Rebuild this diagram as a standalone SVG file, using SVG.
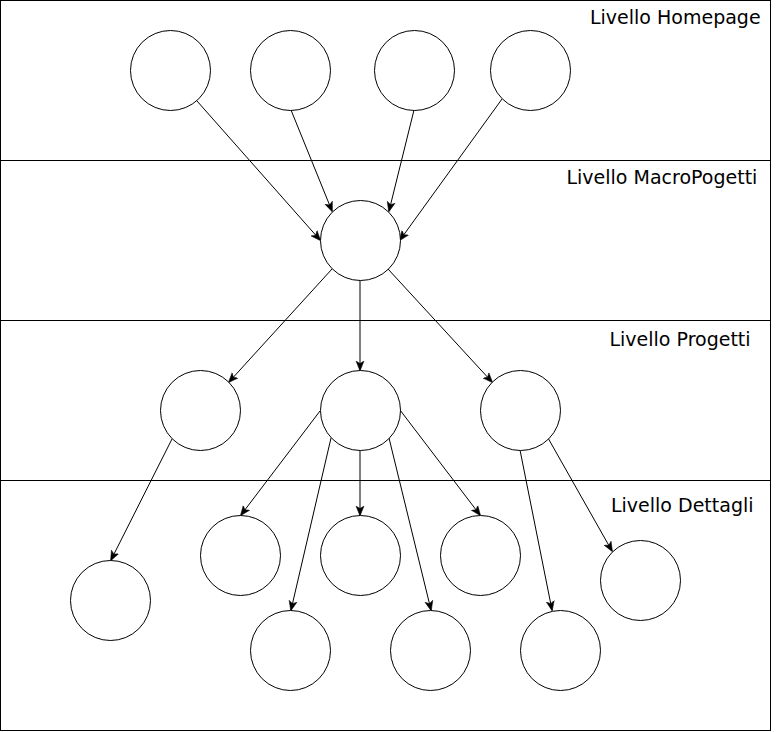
<svg xmlns="http://www.w3.org/2000/svg" width="782" height="732" viewBox="0 0 782 732">
<style>
.lane{fill:none;stroke:#000;stroke-width:1}
.node{fill:#fff;stroke:#000;stroke-width:1}
.edge{fill:none;stroke:#000;stroke-width:1;marker-end:url(#arr)}
.lbl{font-family:"DejaVu Sans",sans-serif;font-size:19px;fill:#000}
</style>
<defs>
<marker id="arr" viewBox="0 0 10 10" refX="9" refY="5" markerWidth="10" markerHeight="10" markerUnits="userSpaceOnUse" orient="auto">
<path d="M0,1 L10,5 L0,9 L2.5,5 Z" fill="#000" stroke="#000" stroke-width="0.5"/>
</marker>
</defs>
<rect fill="#fff" x="0" y="0" width="782" height="732"/>
<g id="lanes">
<rect class="lane" x="0.5" y="0.5" width="770" height="730"/>
<line class="lane" x1="0.5" y1="160.5" x2="770.5" y2="160.5"/>
<line class="lane" x1="0.5" y1="320.5" x2="770.5" y2="320.5"/>
<line class="lane" x1="0.5" y1="480.5" x2="770.5" y2="480.5"/>
<text class="lbl" x="590" y="24">Livello Homepage</text>
<text class="lbl" x="566.5" y="184">Livello MacroPogetti</text>
<text class="lbl" x="609.5" y="346">Livello Progetti</text>
<text class="lbl" x="611" y="512">Livello Dettagli</text>
</g>
<g id="connectors">
<line class="edge" x1="197" y1="101" x2="320" y2="240"/>
<line class="edge" x1="291" y1="110" x2="332" y2="211"/>
<line class="edge" x1="414" y1="110" x2="389" y2="211"/>
<line class="edge" x1="502" y1="99" x2="400" y2="240"/>
<line class="edge" x1="332" y1="269" x2="229" y2="382"/>
<line class="edge" x1="360" y1="280" x2="360" y2="370"/>
<line class="edge" x1="388" y1="269" x2="492" y2="382"/>
<line class="edge" x1="172" y1="439" x2="111" y2="560"/>
<line class="edge" x1="320" y1="411" x2="241" y2="515"/>
<line class="edge" x1="331" y1="438" x2="291" y2="610"/>
<line class="edge" x1="360" y1="450" x2="360" y2="515"/>
<line class="edge" x1="400" y1="410" x2="480" y2="515"/>
<line class="edge" x1="389" y1="438" x2="431" y2="610"/>
<line class="edge" x1="520" y1="450" x2="552" y2="610"/>
<line class="edge" x1="548" y1="438" x2="612" y2="551"/>
</g>
<g id="h1"><circle class="node" cx="170.5" cy="70.5" r="40"/></g>
<g id="h2"><circle class="node" cx="290.5" cy="70.5" r="40"/></g>
<g id="h3"><circle class="node" cx="414.5" cy="70.5" r="40"/></g>
<g id="h4"><circle class="node" cx="530.5" cy="70.5" r="40"/></g>
<g id="m1"><circle class="node" cx="360.5" cy="240.5" r="40"/></g>
<g id="p1"><circle class="node" cx="200.5" cy="410.5" r="40"/></g>
<g id="p2"><circle class="node" cx="360.5" cy="410.5" r="40"/></g>
<g id="p3"><circle class="node" cx="520.5" cy="410.5" r="40"/></g>
<g id="d1"><circle class="node" cx="110.5" cy="600.5" r="40"/></g>
<g id="d2"><circle class="node" cx="240.5" cy="555.5" r="40"/></g>
<g id="d3"><circle class="node" cx="360.5" cy="555.5" r="40"/></g>
<g id="d4"><circle class="node" cx="480.5" cy="555.5" r="40"/></g>
<g id="d5"><circle class="node" cx="640.5" cy="580.5" r="40"/></g>
<g id="d6"><circle class="node" cx="290.5" cy="650.5" r="40"/></g>
<g id="d7"><circle class="node" cx="430.5" cy="650.5" r="40"/></g>
<g id="d8"><circle class="node" cx="560.5" cy="650.5" r="40"/></g>
</svg>
